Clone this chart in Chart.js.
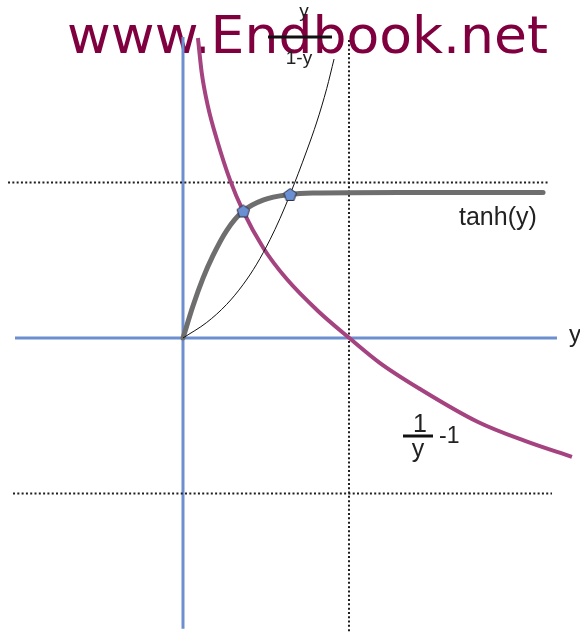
<!DOCTYPE html>
<html lang="en">
<head>
<meta charset="UTF-8">
<title>tanh(y), y/(1-y) and 1/y - 1</title>
<script src="https://cdn.jsdelivr.net/npm/chart.js"></script>
<style>
    body { margin: 0; background: #fff; }
    #plot { display: block; }
</style>
</head>
<body>
<canvas id="plot" width="580" height="632"></canvas>
<script>
    // axis units: x = 1 at the vertical dotted line, y = +/-1 at the horizontal dotted lines
    const xMin = -1.1024, xMax = 2.3916;
    const yMin = -1.8907, yMax = 2.1736;

    // tanh(y), thick grey
    const tanhX = [0, 0.060, 0.120, 0.181, 0.263, 0.363, 0.482, 0.645, 0.783, 1.307, 2.169];
    const tanhY = [0, 0.206, 0.383, 0.531, 0.691, 0.817, 0.887, 0.923, 0.932, 0.936, 0.936];

    // y / (1 - y), thin black
    const ratioX = [0, 0.143, 0.263, 0.361, 0.444, 0.524, 0.584, 0.645, 0.745, 0.806, 0.866, 0.910];
    const ratioY = [0, 0.100, 0.216, 0.342, 0.475, 0.632, 0.768, 0.923, 1.203, 1.389, 1.605, 1.794];

    // 1/y - 1, magenta
    const recipX = [0.090, 0.113, 0.151, 0.203, 0.283, 0.363, 0.484, 0.625, 0.813, 1.002, 1.187, 1.428, 1.777, 2.060, 2.343];
    const recipY = [1.929, 1.704, 1.486, 1.280, 1.017, 0.814, 0.579, 0.379, 0.174, 0.000, -0.161, -0.328, -0.540, -0.662, -0.765];

    // intersection markers
    const markX = [0.363, 0.645];
    const markY = [0.817, 0.923];

    // axes and dotted guides (end points)
    const axisHX = [-1.012, 2.253], axisHY = [0, 0];
    const axisVX = [0, 0], axisVY = [1.936, -1.87];
    const guideTopX = [-1.054, 2.199], guideTopY = [1, 1];
    const guideBotX = [-1.024, 2.223], guideBotY = [-1, -1];
    const guideVX = [1, 1], guideVY = [1.916, -1.89];

    function pts(xs, ys) {
        return xs.map((x, i) => ({ x: x, y: ys[i] }));
    }

    function pentagon(r, fill, stroke) {
        const c = document.createElement('canvas');
        const s = Math.ceil(r * 2 + 3);
        c.width = s;
        c.height = s;
        const g = c.getContext('2d');
        g.beginPath();
        for (let k = 0; k < 5; k++) {
            const a = -Math.PI / 2 + k * 2 * Math.PI / 5;
            const px = s / 2 + r * Math.cos(a);
            const py = s / 2 + r * Math.sin(a) + 0.6;
            if (k === 0) g.moveTo(px, py); else g.lineTo(px, py);
        }
        g.closePath();
        g.fillStyle = fill;
        g.fill();
        g.lineWidth = 1;
        g.strokeStyle = stroke;
        g.stroke();
        return c;
    }

    function lineSet(xs, ys, color, width, extra) {
        return Object.assign({
            data: pts(xs, ys),
            showLine: true,
            borderColor: color,
            borderWidth: width,
            pointRadius: 0,
            fill: false
        }, extra || {});
    }

    const BLUE = '#6d8fd0';
    const MAGENTA = '#a4437f';
    const GREY = '#6e6e6e';
    const DOTS = '#1e1e1e';
    const dotted = { borderDash: [2, 2.3] };
    const smooth = { cubicInterpolationMode: 'monotone' };

    const textPlugin = {
        id: 'texts',
        beforeDatasetsDraw(chart) {
            // watermark sits under the curves
            const ctx = chart.ctx;
            const text = 'www.Endbook.net';
            ctx.save();
            ctx.fillStyle = '#80003f';
            ctx.font = '52px "DejaVu Sans"';
            ctx.textBaseline = 'alphabetic';
            ctx.textAlign = 'left';
            const w = ctx.measureText(text).width;
            ctx.translate(67, 53);
            ctx.scale(481 / w, 1);
            ctx.fillText(text, 0, 0);
            ctx.restore();
        },
        afterDatasetsDraw(chart) {
            const ctx = chart.ctx;
            ctx.save();
            ctx.fillStyle = '#222';
            ctx.strokeStyle = '#111';
            ctx.textBaseline = 'alphabetic';

            // y / (1-y)
            ctx.textAlign = 'center';
            ctx.font = '19px "Liberation Sans"';
            ctx.fillText('y', 304, 17);
            ctx.fillText('1-y', 299, 64);
            ctx.lineWidth = 3;
            ctx.beginPath();
            ctx.moveTo(268, 37);
            ctx.lineTo(332, 37);
            ctx.stroke();

            // tanh(y)
            ctx.textAlign = 'left';
            ctx.font = '25px "Liberation Sans"';
            ctx.fillText('tanh(y)', 459, 225);

            // axis name
            ctx.font = '24px "Liberation Sans"';
            ctx.fillText('y', 569, 342);

            // 1/y -1
            ctx.textAlign = 'center';
            ctx.font = '25px "Liberation Sans"';
            ctx.fillText('1', 420, 432);
            ctx.fillText('y', 418, 457);
            ctx.lineWidth = 3;
            ctx.beginPath();
            ctx.moveTo(403, 436);
            ctx.lineTo(433, 436);
            ctx.stroke();
            ctx.textAlign = 'left';
            ctx.font = '23px "Liberation Sans"';
            ctx.fillText('-1', 439, 443);
            ctx.restore();
        }
    };

    new Chart(document.getElementById('plot'), {
        type: 'scatter',
        data: {
            datasets: [
                {
                    data: pts(markX, markY),
                    pointStyle: pentagon(6.6, '#6b8fd3', '#2b2b3a'),
                    pointRadius: 7,
                    showLine: false
                },
                lineSet(ratioX, ratioY, '#111', 1, smooth),
                lineSet(recipX, recipY, MAGENTA, 4, smooth),
                lineSet(tanhX, tanhY, GREY, 5, Object.assign({ borderCapStyle: 'round' }, smooth)),
                lineSet(guideVX, guideVY, DOTS, 2, dotted),
                lineSet(guideTopX, guideTopY, DOTS, 2, dotted),
                lineSet(guideBotX, guideBotY, DOTS, 2, dotted),
                lineSet(axisHX, axisHY, BLUE, 3),
                lineSet(axisVX, axisVY, BLUE, 3)
            ]
        },
        options: {
            responsive: false,
            animation: false,
            events: [],
            layout: { padding: 0, autoPadding: false },
            plugins: {
                legend: { display: false },
                tooltip: { enabled: false }
            },
            scales: {
                x: { type: 'linear', display: false, min: xMin, max: xMax },
                y: { type: 'linear', display: false, min: yMin, max: yMax }
            }
        },
        plugins: [textPlugin]
    });
</script>
</body>
</html>
